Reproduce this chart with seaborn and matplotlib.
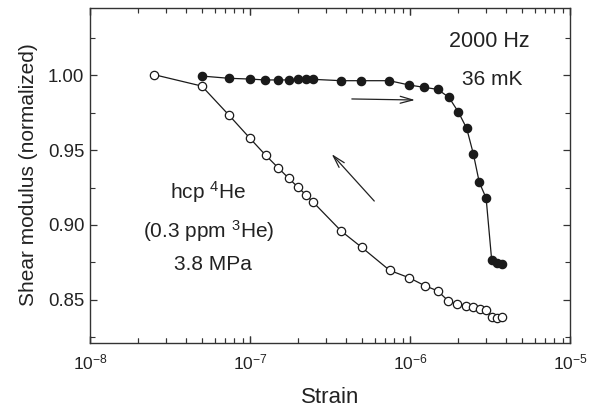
import matplotlib
matplotlib.use("Agg")
import matplotlib.pyplot as plt
import matplotlib.ticker as mticker
import seaborn as sns
import pandas as pd
import numpy as np

# ---- data ----
strain_up = [5.0e-8, 7.4e-8, 1.0e-7, 1.24e-7, 1.49e-7, 1.75e-7, 2.0e-7, 2.24e-7, 2.49e-7,
             3.72e-7, 4.96e-7, 7.43e-7, 9.9e-7, 1.22e-6, 1.49e-6, 1.75e-6, 2.0e-6, 2.26e-6,
             2.49e-6, 2.71e-6, 2.99e-6, 3.24e-6, 3.48e-6, 3.74e-6]
modulus_up = [0.9995, 0.9980, 0.9975, 0.9969, 0.9969, 0.9969, 0.9973, 0.9973, 0.9973,
              0.9964, 0.9964, 0.9964, 0.9935, 0.9920, 0.9906, 0.9853, 0.9757, 0.9646,
              0.9474, 0.9285, 0.9180, 0.8765, 0.8747, 0.8737]

strain_down = [2.5e-8, 5.0e-8, 7.4e-8, 1.0e-7, 1.25e-7, 1.5e-7, 1.75e-7, 2.0e-7, 2.24e-7,
               2.49e-7, 3.72e-7, 5.0e-7, 7.46e-7, 9.9e-7, 1.24e-6, 1.49e-6, 1.74e-6,
               1.98e-6, 2.24e-6, 2.49e-6, 2.75e-6, 2.99e-6, 3.24e-6, 3.48e-6, 3.76e-6]
modulus_down = [1.0005, 0.9928, 0.9733, 0.9579, 0.9467, 0.9382, 0.9311, 0.9251, 0.9200,
                0.9151, 0.8959, 0.8850, 0.8697, 0.8647, 0.8594, 0.8560, 0.8491, 0.8471,
                0.8460, 0.8451, 0.8438, 0.8432, 0.8386, 0.8382, 0.8384]

y_ticks = [0.85, 0.90, 0.95, 1.00]
y_ticklabels = ["0.85", "0.90", "0.95", "1.00"]
x_decades = [-8, -7, -6, -5]

sns.set_style("ticks")
plt.rcParams["font.family"] = ["Liberation Sans", "DejaVu Sans"]
plt.rcParams["mathtext.fontset"] = "custom"
plt.rcParams["mathtext.rm"] = "Liberation Sans"
plt.rcParams["mathtext.it"] = "Liberation Sans"
plt.rcParams["mathtext.default"] = "regular"

fig = plt.figure(figsize=(5.97, 4.12), dpi=100)
ax = fig.add_axes([90 / 597, 1 - 342.5 / 412, 480 / 597, 335 / 412])

txt = "#222222"
tick_col = "#333333"

df_down = pd.DataFrame({"strain": strain_down, "modulus": modulus_down})
df_up = pd.DataFrame({"strain": strain_up, "modulus": modulus_up})

sns.lineplot(data=df_down, x="strain", y="modulus", sort=False, estimator=None, ax=ax,
             color="#1a1a1a", lw=0.9, marker="o", markersize=6.0,
             markerfacecolor="white", markeredgecolor="#1a1a1a", markeredgewidth=0.9)
sns.lineplot(data=df_up, x="strain", y="modulus", sort=False, estimator=None, ax=ax,
             color="#1a1a1a", lw=0.9, marker="o", markersize=6.0,
             markerfacecolor="#1a1a1a", markeredgecolor="#1a1a1a", markeredgewidth=0.9)

ax.set_xscale("log")
ax.set_xlim(1e-8, 1e-5)
ax.set_ylim(0.8215, 1.0453)
ax.set_yticks(y_ticks)
ax.set_yticklabels(y_ticklabels)
ax.yaxis.set_minor_locator(mticker.MultipleLocator(0.025))

for s in ax.spines.values():
    s.set_linewidth(1.0)
    s.set_color(tick_col)

ax.set_xlabel("Strain", fontsize=16, color=txt, labelpad=11)
ax.set_ylabel("Shear modulus (normalized)", fontsize=15, color=txt, labelpad=7)

# arrows
ax.annotate("", xy=(1.075e-6, 0.9835), xytext=(4.33e-7, 0.9842),
            arrowprops=dict(arrowstyle="->,head_length=0.9,head_width=0.25",
                            color="#222222", lw=0.9, shrinkA=0, shrinkB=0))
ax.annotate("", xy=(3.24e-7, 0.9474), xytext=(5.98e-7, 0.916),
            arrowprops=dict(arrowstyle="->,head_length=0.9,head_width=0.25",
                            color="#222222", lw=0.9, shrinkA=0, shrinkB=0))

# annotations
ax.text(0.831, 0.883, "2000 Hz", transform=ax.transAxes, ha="center", va="baseline",
        fontsize=15.5, color=txt)
ax.text(0.837, 0.769, "36 mK", transform=ax.transAxes, ha="center", va="baseline",
        fontsize=15, color=txt)
ax.text(0.245, 0.430, "hcp $^{4}$He", transform=ax.transAxes, ha="center", va="baseline",
        fontsize=15, color=txt)
ax.text(0.248, 0.313, "(0.3 ppm $^{3}$He)", transform=ax.transAxes, ha="center",
        va="baseline", fontsize=15, color=txt)
ax.text(0.256, 0.216, "3.8 MPa", transform=ax.transAxes, ha="center", va="baseline",
        fontsize=15, color=txt)

# ticks
major_x = [10.0 ** e for e in x_decades]
minor_x = [m * 10.0 ** e for e in x_decades[:-1] for m in range(2, 10)]
ax.set_xticks(major_x)
ax.set_xticklabels([f"$10^{{{e}}}$" for e in x_decades])
ax.set_xticks(minor_x, minor=True)
ax.xaxis.set_minor_formatter(mticker.NullFormatter())
ax.tick_params(which="both", direction="in", top=True, right=True, bottom=True, left=True,
               colors=tick_col, labelcolor=txt)
ax.tick_params(which="major", length=5.2, width=0.9)
ax.tick_params(which="minor", length=3.3, width=0.8)
ax.tick_params(axis="y", which="major", labelsize=13.4, pad=4)
ax.tick_params(axis="x", which="major", labelsize=12.5, pad=7)

# explicit inward x tick marks on bottom and top edges (axis decoration)
xtr = ax.get_xaxis_transform()
maj_len = 7.0 / 335.0
min_len = 4.6 / 335.0
ax.vlines(major_x, 0, maj_len, transform=xtr, colors=tick_col, lw=0.9, clip_on=False, zorder=3)
ax.vlines(major_x, 1 - maj_len, 1, transform=xtr, colors=tick_col, lw=0.9, clip_on=False, zorder=3)
ax.vlines(minor_x, 0, min_len, transform=xtr, colors=tick_col, lw=0.8, clip_on=False, zorder=3)
ax.vlines(minor_x, 1 - min_len, 1, transform=xtr, colors=tick_col, lw=0.8, clip_on=False, zorder=3)
ax.set_xlim(1e-8, 1e-5)
ax.set_ylim(0.8215, 1.0453)

fig.savefig("out.png", dpi=100)
